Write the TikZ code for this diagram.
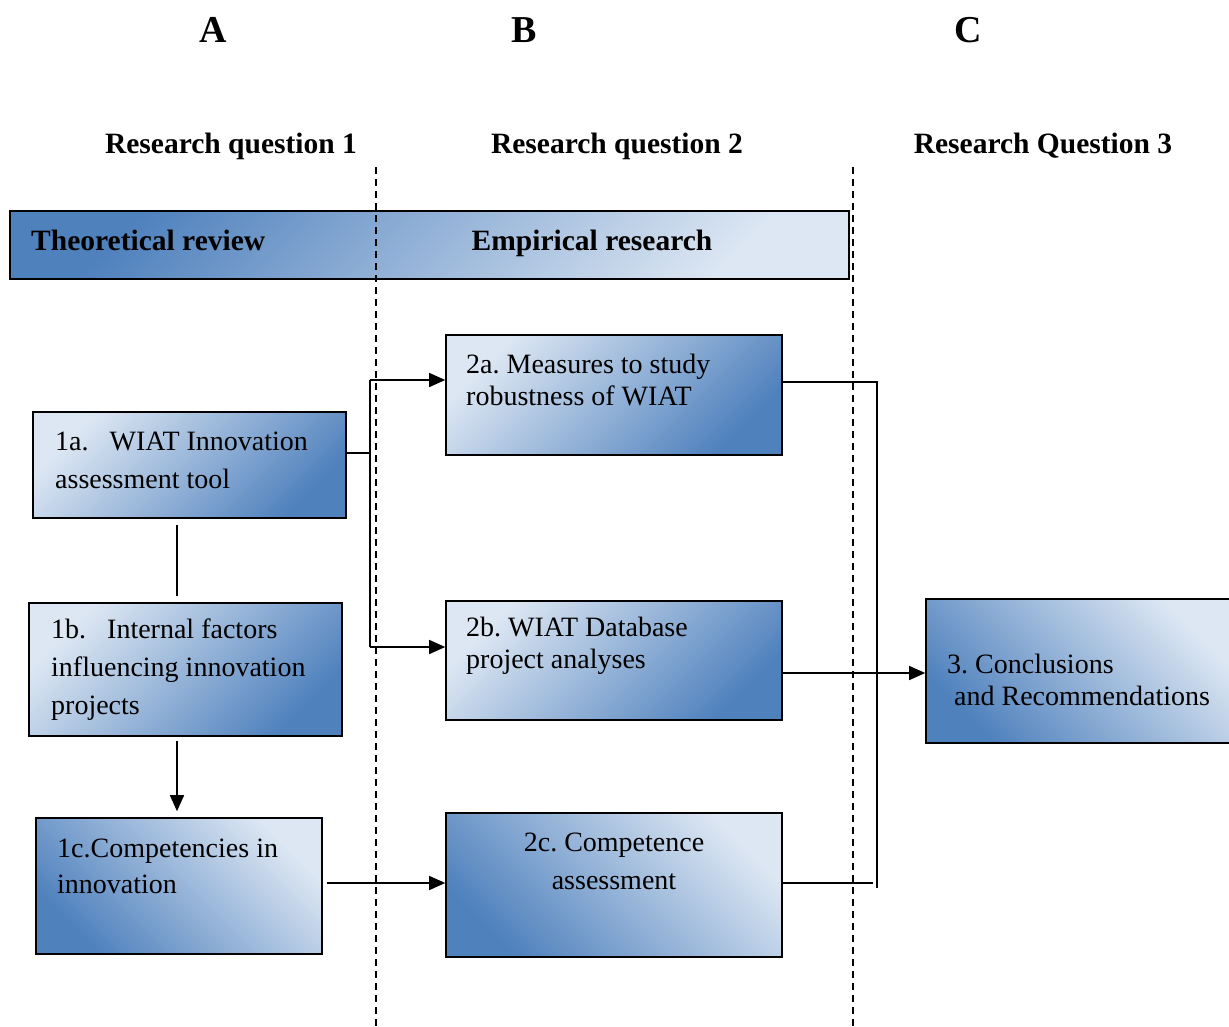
\documentclass[tikz,border=0pt]{standalone}
\usepackage{fontspec}
\setmainfont{Liberation Serif}
\usetikzlibrary{arrows.meta}
\definecolor{boxBlue}{RGB}{79,129,189}
\definecolor{boxLight}{RGB}{221,231,243}
\frenchspacing
\begin{document}
\begin{tikzpicture}[x=1pt, y=-1pt,
    boxStyle/.style={draw=black, line width=1.6pt, rectangle, inner sep=0pt},
    shadeA/.style={top color=boxLight, bottom color=boxBlue, shading angle=45},
    shadeB/.style={top color=boxLight, bottom color=boxBlue, shading angle=-45},
    shadeBar/.style={top color=boxBlue, bottom color=boxLight, shading angle=45},
    txtStyle/.style={align=left, inner sep=0pt, font=\fontsize{28}{38}\selectfont},
    txtTight/.style={align=left, inner sep=0pt, font=\fontsize{28}{32.5}\selectfont},
    headStyle/.style={inner sep=0pt, font=\fontsize{29.5}{32}\selectfont\bfseries},
    letterStyle/.style={inner sep=0pt, font=\fontsize{38}{40}\selectfont\bfseries},
    arrowStyle/.style={-{Triangle[length=16pt, width=14pt]}, line width=1.5pt},
    lineStyle/.style={line width=1.5pt}]
    \useasboundingbox (0,0) rectangle (1229,1026);

    % column letters and questions
    \node[letterStyle](colA) at (213, 30) {A};
    \node[letterStyle](colB) at (524, 30) {B};
    \node[letterStyle](colC) at (968, 30) {C};
    \node[headStyle](rq1) at (231, 146) {Research question 1};
    \node[headStyle](rq2) at (617, 146) {Research question 2};
    \node[headStyle](rq3) at (1043, 146) {Research Question 3};

    % header bar
    \node[boxStyle, shadeBar, minimum width=839, minimum height=68](bar) at (429.5, 245) {};
    \node[headStyle, anchor=west](theo) at (31, 240) {Theoretical review};
    \node[headStyle](emp) at (592, 243) {Empirical research};

    % dashed column separators
    \coordinate (sep1top) at (376, 167);
    \coordinate (sep1bot) at (376, 1026);
    \coordinate (sep2top) at (853, 167);
    \coordinate (sep2bot) at (853, 1026);
    \draw[dashed, line width=1.3pt, dash pattern=on 7pt off 5pt] (sep1top) -- (sep1bot);
    \draw[dashed, line width=1.3pt, dash pattern=on 7pt off 5pt] (sep2top) -- (sep2bot);

    % column 1
    \node[boxStyle, shadeA, minimum width=313, minimum height=106](b1a) at (189.5, 465) {};
    \node[txtStyle, anchor=west](t1a) at (55, 460) {1a.\ \ \ WIAT Innovation\\assessment tool};
    \node[boxStyle, shadeA, minimum width=313, minimum height=133](b1b) at (185.5, 669.5) {};
    \node[txtStyle, anchor=west](t1b) at (51, 670) {1b.\ \ \ Internal factors\\influencing innovation\\projects};
    \node[boxStyle, shadeB, minimum width=286, minimum height=136](b1c) at (179, 886) {};
    \node[txtStyle, font=\fontsize{28}{36}\selectfont, anchor=west](t1c) at (57, 866) {1c.Competencies in\\innovation};

    % column 2
    \node[boxStyle, shadeA, minimum width=336, minimum height=120](b2a) at (614, 395) {};
    \node[txtTight, anchor=west](t2a) at (466, 380) {2a. Measures to study\\robustness of WIAT};
    \node[boxStyle, shadeA, minimum width=336, minimum height=119](b2b) at (614, 660.5) {};
    \node[txtTight, anchor=west](t2b) at (466, 646) {2b. WIAT Database\\project analyses};
    \node[boxStyle, shadeB, minimum width=336, minimum height=144](b2c) at (614, 885) {};
    \node[txtStyle, align=center](t2c) at (614, 861) {2c. Competence\\assessment};

    % column 3
    \node[boxStyle, shadeB, minimum width=304, minimum height=144](b3) at (1078, 671) {};
    \node[txtTight, anchor=west](t3) at (947, 680) {3. Conclusions\\\ and Recommendations};

    % connectors
    \coordinate (split) at (370, 453);
    \coordinate (colOne) at (177, 0);
    \draw[lineStyle] (b1a.east |- split) -- (split);
    \draw[lineStyle] (370, 380) -- (370, 647);
    \draw[arrowStyle] (370, 380) -- (b2a.west |- 0, 380);
    \draw[arrowStyle] (370, 647) -- (b2b.west |- 0, 647);
    \draw[lineStyle] ([yshift=-6]colOne |- b1a.south) -- ([yshift=6]colOne |- b1b.north);
    \draw[arrowStyle] ([yshift=-4]colOne |- b1b.south) -- ([yshift=6]colOne |- b1c.north);
    \draw[arrowStyle] ([xshift=4]b1c.east |- 0, 883) -- (b2c.west |- 0, 883);

    \coordinate (joinTop) at (877, 382);
    \coordinate (joinBot) at (877, 888);
    \draw[lineStyle] (b2a.east |- joinTop) -- (joinTop) -- (joinBot);
    \draw[lineStyle] (b2c.east |- 0, 883) -- (873, 883);
    \draw[arrowStyle] (b2b.east |- 0, 673) -- (b3.west |- 0, 673);
\end{tikzpicture}
\end{document}
